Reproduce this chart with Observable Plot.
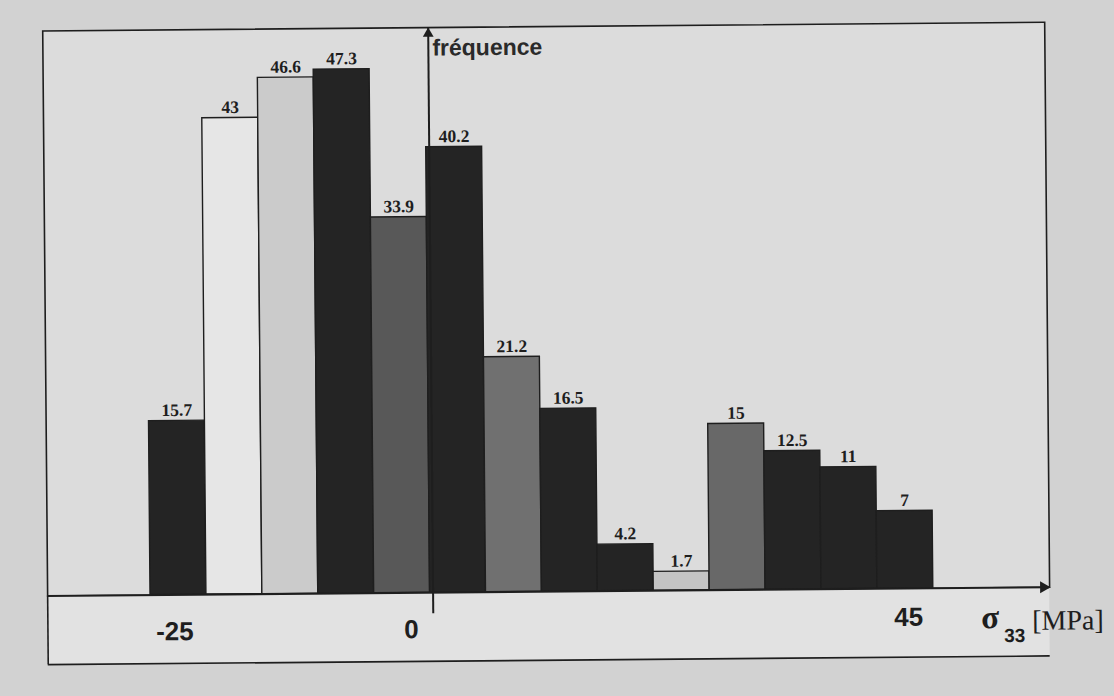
<!DOCTYPE html>
<html>
<head>
<meta charset="utf-8">
<script src="https://cdn.jsdelivr.net/npm/d3@7"></script>
<script src="https://cdn.jsdelivr.net/npm/@observablehq/plot@0.6"></script>
<style>
  html, body { margin: 0; padding: 0; background: #d2d2d2; overflow: hidden; }
  #chart svg { display: block; transform: rotate(-0.5deg); transform-origin: 50% 50%; }
</style>
</head>
<body>
<div id="chart"></div>
<script>
// ---- data ----
const binStart   = [-25, -20, -15, -10, -5, 0, 5, 10, 15, 20, 25, 30, 35, 40];   // MPa, bin width 5
const frequence  = [15.7, 43, 46.6, 47.3, 33.9, 40.2, 21.2, 16.5, 4.2, 1.7, 15, 12.5, 11, 7];
const barShade   = ["#242424", "#e6e6e6", "#cbcbcb", "#242424", "#585858", "#242424", "#707070",
                    "#242424", "#242424", "#c4c4c4", "#686868", "#242424", "#242424", "#242424"];
const tickValues = [-25, 0, 45];
const tickLabels = ["-25", "0", "45"];
const binWidth = 5;

const bins = binStart.map((s, i) => ({x1: s, x2: s + binWidth, f: frequence[i], shade: barShade[i], label: String(frequence[i])}));

const xMin = -34.2, xMax = 55.4, yMax = 51, stripBottom = -6.2;
const ink = "#1e1e1e";

const plot = Plot.plot({
  width: 1114,
  height: 696,
  marginTop: 26,
  marginBottom: 105,
  marginLeft: 45,
  marginRight: 67,
  style: {background: "transparent", overflow: "visible"},
  x: {domain: [xMin, xMax], axis: null},
  y: {domain: [0, yMax], axis: null},
  marks: [
    // framed interior
    Plot.frame({fill: "#dcdcdc", stroke: ink, strokeWidth: 1.6}),
    // label strip under the axis
    Plot.rect([0], {x1: xMin, x2: xMax, y1: stripBottom, y2: 0, fill: "#e2e2e2"}),
    Plot.ruleX([xMin], {y1: stripBottom, y2: 0, stroke: ink, strokeWidth: 1.6}),
    Plot.ruleY([stripBottom], {x1: xMin, x2: xMax, stroke: ink, strokeWidth: 1.6}),
    // histogram bars
    Plot.rectY(bins, {x1: "x1", x2: "x2", y: "f", fill: "shade", stroke: ink, strokeWidth: 1.4, inset: 0}),
    // value labels
    Plot.text(bins, {x: d => (d.x1 + d.x2) / 2, y: "f", text: "label", lineAnchor: "bottom", dy: -5,
      fontFamily: "Liberation Serif", fontWeight: "bold", fontSize: 17.5, fill: ink}),
    // x axis with arrow
    Plot.ruleY([0], {x1: xMin, x2: xMax, stroke: ink, strokeWidth: 2}),
    Plot.dot([xMax], {x: d => d, y: 0, symbol: "triangle", r: 4.5, rotate: 90, fill: ink, stroke: "none", dx: -6}),
    // vertical frequency axis with arrow
    Plot.ruleX([0], {y1: -1.9, y2: yMax, dx: 3, stroke: ink, strokeWidth: 2}),
    Plot.dot([0], {x: d => d, y: yMax, symbol: "triangle", r: 4, fill: ink, stroke: "none", dx: 3, dy: 6}),
    Plot.text(["fréquence"], {x: 0, y: yMax, text: d => d, textAnchor: "start", lineAnchor: "bottom", dx: 7, dy: 28,
      fontFamily: "Liberation Sans", fontWeight: "bold", fontSize: 23, fill: "#2a2a2a", style: "letter-spacing:1.8px"}),
    // tick labels
    Plot.text([tickValues[0]], {x: d => d, y: 0, text: () => tickLabels[0], dx: 24, dy: 37,
      fontFamily: "Liberation Sans", fontWeight: "bold", fontSize: 26, fill: ink}),
    Plot.text([tickValues[1]], {x: d => d, y: 0, text: () => tickLabels[1], dx: -19, dy: 37,
      fontFamily: "Liberation Sans", fontWeight: "bold", fontSize: 26, fill: ink}),
    Plot.text([tickValues[2]], {x: d => d, y: 0, text: () => tickLabels[2], dx: -25, dy: 29,
      fontFamily: "Liberation Sans", fontWeight: "bold", fontSize: 26, fill: ink})
  ]
});

// axis title: sigma_33 [MPa]
const xs = plot.scale("x");
const ys = plot.scale("y");
const tx = xs.apply(tickValues[2]) + 48;
const ty = ys.apply(0) + 41;
const title = d3.select(plot).append("text")
  .attr("x", tx).attr("y", ty)
  .attr("text-anchor", "start")
  .attr("fill", ink)
  .attr("font-family", "Liberation Serif");
title.append("tspan").attr("font-size", 33).attr("font-weight", "bold").text("σ");
title.append("tspan").attr("font-family", "Liberation Sans").attr("font-weight", "bold")
  .attr("font-size", 19).attr("dx", 5).attr("dy", 14).text("33");
title.append("tspan").attr("font-size", 28).attr("dx", 7).attr("dy", -12).text("[MPa]");

document.getElementById("chart").appendChild(plot);
</script>
</body>
</html>
